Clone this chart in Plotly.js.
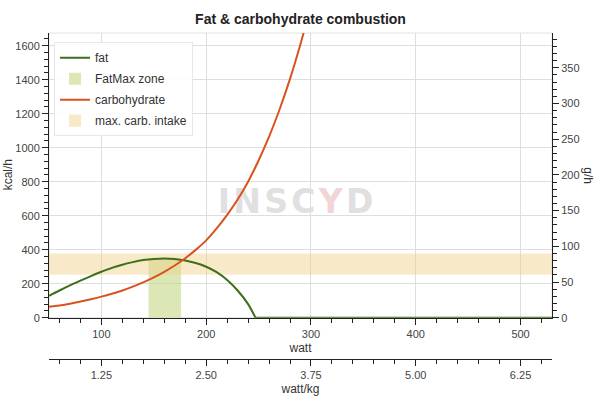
<!DOCTYPE html>
<html>
<head>
<meta charset="utf-8">
<script src="https://cdn.plot.ly/plotly-3.0.1.min.js"></script>
<style>html,body{margin:0;padding:0;background:#fff;}#chart{width:600px;height:399px;}</style>
</head>
<body>
<div id="chart"></div>
<script>
// ---- data ----
const carbWatt = [50,60,70,80,90,100,110,120,130,140,150,160,170,180,190,200,210,220,230,240,250,260,270,280,290,300];
const carbKcal = [65,72,82,95,109,124,141,160,183,208,237,270,307,350,399,455,525,605,695,800,925,1065,1225,1405,1610,1840];
const fatWatt = [50,60,70,80,90,100,110,120,130,140,150,160,170,180,190,200,210,220,230,240,247,530];
const fatKcal = [129,160,190,218,245,270,293,312,327,339,346,349,346,337,322,300,268,222,160,80,0,0];
const fatMaxZoneWatt = [145, 176];
const carbIntakeGh = [60, 90];
const KCAL_PER_G = 4.2;
const RIDER_KG = 80;
const wattRange = [50, 530];
const kcalRange = [0, 1675];

const fatColor = '#3d6f1b';
const carbColor = '#d9531e';
const axisCol = '#222';
const font = 'Liberation Sans, Arial, Helvetica, sans-serif';

// split fat into the curved part and the flat zero tail
const firstZero = fatKcal.indexOf(0);
const fatCurveW = fatWatt.slice(0, firstZero + 1), fatCurveK = fatKcal.slice(0, firstZero + 1);
const fatTailW = fatWatt.slice(firstZero), fatTailK = fatKcal.slice(firstZero);

const zoneTop = Math.max(...fatKcal);
const traces = [
  {type:'scatter', mode:'lines', name:'fat', legendgroup:'g1', x:fatCurveW, y:fatCurveK,
   line:{color:fatColor, width:2, shape:'spline', smoothing:1}, hoverinfo:'skip'},
  {type:'scatter', mode:'lines', name:'fat', legendgroup:'g1', showlegend:false, x:fatTailW, y:fatTailK,
   line:{color:fatColor, width:2}, hoverinfo:'skip'},
  {type:'bar', name:'FatMax zone', legendgroup:'g2', x:[(fatMaxZoneWatt[0]+fatMaxZoneWatt[1])/2], width:[fatMaxZoneWatt[1]-fatMaxZoneWatt[0]],
   base:[0], y:[zoneTop], marker:{color:'rgba(190,214,120,0.55)', line:{width:0}}, hoverinfo:'skip'},
  {type:'scatter', mode:'lines', name:'carbohydrate', legendgroup:'g3', x:carbWatt, y:carbKcal,
   line:{color:carbColor, width:2, shape:'spline', smoothing:1}, hoverinfo:'skip'},
  {type:'bar', name:'max. carb. intake', legendgroup:'g4', x:[(wattRange[0]+wattRange[1])/2], width:[wattRange[1]-wattRange[0]],
   base:[carbIntakeGh[0]*KCAL_PER_G], y:[(carbIntakeGh[1]-carbIntakeGh[0])*KCAL_PER_G],
   marker:{color:'rgba(240,206,135,0.45)', line:{width:0}}, hoverinfo:'skip'},
  {type:'scatter', mode:'lines', x:[], y:[], xaxis:'x2', yaxis:'y2', showlegend:false, hoverinfo:'skip'}
];

const tickCommon = {showline:true, linecolor:axisCol, linewidth:1, ticks:'outside', ticklen:6, tickwidth:1, tickcolor:axisCol,
  zeroline:false, automargin:false, tickfont:{family:font, size:11, color:'#444'}};
const minorCommon = {ticks:'outside', ticklen:4, tickwidth:1, tickcolor:axisCol, showgrid:false};

const layout = {
  width:600, height:399,
  margin:{l:49, r:48, t:33, b:40},
  paper_bgcolor:'#fff', plot_bgcolor:'#fff',
  font:{family:font, size:11, color:'#444'},
  title:{text:'<b>Fat & carbohydrate combustion</b>', font:{family:font, size:14, color:'#222'},
         x:0.5, xanchor:'center', xref:'paper', y:1-19/399, yanchor:'middle', yref:'container'},
  barmode:'overlay',
  showlegend:true,
  legend:{x:0.01, y:0.972, xanchor:'left', yanchor:'top', bgcolor:'rgba(255,255,255,0.9)', bordercolor:'#e8e8e8', borderwidth:1,
          font:{family:font, size:12, color:'#333'}, traceorder:'grouped', tracegroupgap:2},
  xaxis:Object.assign({}, tickCommon, {range:wattRange, tick0:0, dtick:100, minor:Object.assign({dtick:20}, minorCommon),
          showgrid:true, gridcolor:'#dedede', title:{text:'watt', font:{family:font, size:12, color:'#333'}, standoff:4}}),
  xaxis2:Object.assign({}, tickCommon, {overlaying:'x', anchor:'free', position:0, side:'bottom',
          range:[wattRange[0]/RIDER_KG, wattRange[1]/RIDER_KG], tick0:0, dtick:1.25, tickformat:'.2f',
          minor:Object.assign({dtick:0.25}, minorCommon), showgrid:false,
          title:{text:'watt/kg', font:{family:font, size:12, color:'#333'}, standoff:4}}),
  yaxis:Object.assign({}, tickCommon, {domain:[0.1267, 1], range:kcalRange, tick0:0, dtick:200,
          minor:Object.assign({dtick:40}, minorCommon), showgrid:true, gridcolor:'#dedede'}),
  yaxis2:Object.assign({}, tickCommon, {overlaying:'y', side:'right', anchor:'x',
          range:[kcalRange[0]/KCAL_PER_G, kcalRange[1]/KCAL_PER_G], tick0:0, dtick:50,
          minor:Object.assign({dtick:10}, minorCommon), showgrid:false}),
  shapes:[
    {type:'rect', xref:'x domain', yref:'y domain', x0:0, x1:1, y0:0, y1:1, line:{color:'#e2e2e2', width:1}, layer:'below'},
    {type:'rect', xref:'paper', yref:'paper', x0:0.3, x1:0.68, y0:0.45, y1:0.53, line:{width:0}, fillcolor:'rgba(0,0,0,0)', layer:'below',
     label:{text:'I\u200AN\u200AS\u200AC\u200A<span style="color:#f0d6d6">Y</span>\u200AD', textposition:'middle center',
            font:{family:'DejaVu Sans', size:33, color:'#e0e0e0', weight:'bold'}}}
  ],
  annotations:[
    {text:'kcal/h', xref:'paper', yref:'paper', x:(8-49)/503, y:0.5633, textangle:-90, showarrow:false,
     xanchor:'center', yanchor:'middle', font:{family:font, size:12, color:'#333'}},
    {text:'g/h', xref:'paper', yref:'paper', x:(588-49)/503, y:0.5633, textangle:90, showarrow:false,
     xanchor:'center', yanchor:'middle', font:{family:font, size:12, color:'#333'}}
  ]
};

Plotly.newPlot('chart', traces, layout, {displayModeBar:false, staticPlot:true});
</script>
</body>
</html>
